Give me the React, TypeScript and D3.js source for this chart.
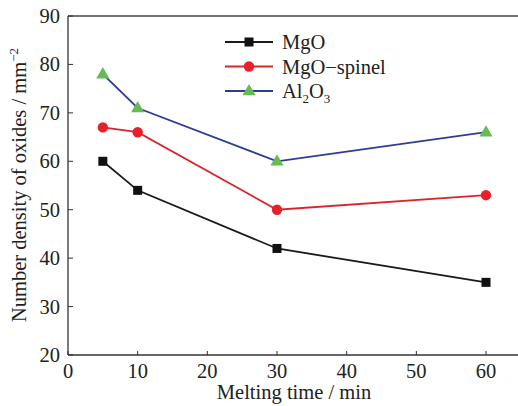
import React from "react";
import * as d3 from "d3";

const times = [5, 10, 30, 60];
const mgo = [60, 54, 42, 35];
const spinel = [67, 66, 50, 53];
const al2o3 = [78, 71, 60, 66];
const xTicks = [0, 10, 20, 30, 40, 50, 60];
const yTicks = [20, 30, 40, 50, 60, 70, 80, 90];

const W = 518, H = 406;
const L = 68, T = 16, B = 355;
const x = d3.scaleLinear().domain([0, 60]).range([L, 486]);
const y = d3.scaleLinear().domain([20, 90]).range([B, T]);
const R = x(65);
const font = "'Liberation Serif', 'Times New Roman', serif";
const FS = 20.5;

const series = [
  { name: "MgO", values: mgo, line: "#1a1a1a", fill: "#111", marker: "square" },
  { name: "MgO-spinel", values: spinel, line: "#d8262c", fill: "#e8202a", marker: "circle" },
  { name: "Al2O3", values: al2o3, line: "#2e3d94", fill: "#66bb55", marker: "triangle" },
];

function Marker({ type, cx, cy, fill }: { type: string; cx: number; cy: number; fill: string }) {
  if (type === "square") return <rect x={cx - 4.5} y={cy - 4.5} width={9} height={9} fill={fill} />;
  if (type === "circle") return <circle cx={cx} cy={cy} r={5.2} fill={fill} />;
  const s = d3.symbol().type(d3.symbolTriangle).size(75)();
  return <path d={s || ""} transform={`translate(${cx},${cy + 0.5})`} fill={fill} />;
}

export default function App() {
  const line = d3.line<number>().x((_, i) => x(times[i])).y((v) => y(v));
  return (
    <svg width={W} height={H} style={{ position: "absolute", left: 0, top: 0, background: "#fff" }}>
      <rect x={0} y={0} width={W} height={H} fill="#fff" />
      <line x1={L} y1={T} x2={R} y2={T} stroke="#444" strokeWidth={1.3} />
      <line x1={L} y1={B} x2={R} y2={B} stroke="#333" strokeWidth={1.3} />
      <line x1={L} y1={T} x2={L} y2={B} stroke="#333" strokeWidth={1.3} />
      {xTicks.map((t) => (
        <g key={"x" + t}>
          <line x1={x(t)} x2={x(t)} y1={B} y2={B - 4} stroke="#333" strokeWidth={1} />
          <text x={x(t)} y={378} textAnchor="middle" fontFamily={font} fontSize={FS} fill="#222">{t}</text>
        </g>
      ))}
      {yTicks.map((t) => (
        <g key={"y" + t}>
          <line x1={L} x2={L + 5} y1={y(t)} y2={y(t)} stroke="#333" strokeWidth={1} />
          <text x={60} y={y(t) + 7} textAnchor="end" fontFamily={font} fontSize={FS} fill="#222">{t}</text>
        </g>
      ))}
      <text x={294} y={399} textAnchor="middle" fontFamily={font} fontSize={FS} fill="#222">Melting time / min</text>
      <text transform={`translate(26,185) rotate(-90)`} textAnchor="middle" fontFamily={font} fontSize={FS} fill="#222">
        Number density of oxides / mm<tspan dy={-8} fontSize={13}>−2</tspan>
      </text>
      {series.map((s) => (
        <g key={s.name}>
          <path d={line(s.values) || ""} fill="none" stroke={s.line} strokeWidth={1.8} />
          {s.values.map((v, i) => (
            <Marker key={i} type={s.marker} cx={x(times[i])} cy={y(v)} fill={s.fill} />
          ))}
        </g>
      ))}
      {series.map((s, i) => {
        const ly = 42 + i * 24.5;
        return (
          <g key={"lg" + s.name}>
            <line x1={225} x2={273} y1={ly} y2={ly} stroke={s.line} strokeWidth={1.8} />
            <Marker type={s.marker} cx={249} cy={ly} fill={s.fill} />
            <text x={282} y={ly + 7} fontFamily={font} fontSize={FS} fill="#222">
              {s.name === "MgO" ? "MgO" : s.name === "MgO-spinel" ? "MgO−spinel" : (
                <>
                  Al<tspan dy={5} fontSize={13}>2</tspan><tspan dy={-5}>O</tspan><tspan dy={5} fontSize={13}>3</tspan>
                </>
              )}
            </text>
          </g>
        );
      })}
    </svg>
  );
}
